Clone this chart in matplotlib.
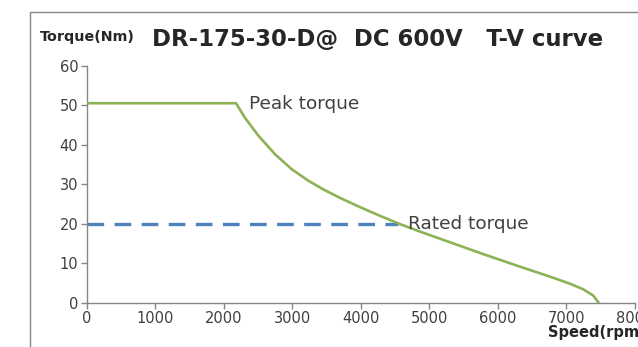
import matplotlib.pyplot as plt
from matplotlib.patches import Rectangle

# data
speed = [0, 2178, 2310, 2504, 2747, 2991, 3233, 3450, 3700, 3987, 4279,
         4571, 4863, 5155, 5446, 5787, 6274, 6760, 7052, 7245, 7391, 7470]
torque = [50.5, 50.5, 46.8, 42.3, 37.6, 33.8, 30.9, 28.7, 26.5, 24.2, 22.0,
          19.9, 18.0, 16.2, 14.4, 12.3, 9.4, 6.6, 4.8, 3.4, 1.8, 0.0]
rated_speed = [0, 4540]
rated_torque = [20, 20]

xticks = [0, 1000, 2000, 3000, 4000, 5000, 6000, 7000, 8000]
yticks = [0, 10, 20, 30, 40, 50, 60]

green = '#8DB255'
blue = '#4F81BD'
grey = '#868686'
txt = '#404040'

fig = plt.figure(figsize=(6.38, 3.47), dpi=100)
# outer chart frame, only left and top edges are inside the picture
fig.patches.append(Rectangle((30 / 638, -0.2), 1.2, 1 - 11.5 / 347 + 0.2,
                             transform=fig.transFigure, fill=False,
                             edgecolor=grey, lw=1.0))

ax = fig.add_axes([86.7 / 638, 1 - 302.7 / 347, 548.3 / 638, 237 / 347])
ax.plot(speed, torque, color=green, lw=1.9, solid_joinstyle='round', zorder=3)
lw = 2.4
ax.plot(rated_speed, rated_torque, color=blue, lw=lw,
        linestyle=(0, (12 / lw, 7.5 / lw)), zorder=2)

ax.set_xlim(0, 8000)
ax.set_ylim(0, 60)
ax.set_xticks(xticks)
ax.set_yticks(yticks)
for s in ['top', 'right']:
    ax.spines[s].set_visible(False)
for s in ['left', 'bottom']:
    ax.spines[s].set_color(grey)
    ax.spines[s].set_linewidth(1.0)
ax.tick_params(colors=grey, labelcolor=txt, length=4, width=1.0,
               labelsize=10.5, pad=2)
ax.set_facecolor('none')

ax.text(2370, 50.4, 'Peak torque', color=txt, fontsize=13.3, va='center')
ax.text(4690, 20, 'Rated torque', color=txt, fontsize=13.3, va='center')

fig.text(152 / 638, 1 - 40 / 347, 'DR-175-30-D@  DC 600V   T-V curve',
         fontsize=16.4, fontweight='bold', color='#262626',
         va='center', ha='left')
fig.text(40 / 638, 1 - 37 / 347, 'Torque(Nm)', fontsize=10.3, fontweight='bold',
         color='#262626', va='center', ha='left')
fig.text(548 / 638, 1 - 333 / 347, 'Speed(rpm)', fontsize=10.5, fontweight='bold',
         color='#262626', va='center', ha='left')

fig.savefig('out.png', dpi=100)
